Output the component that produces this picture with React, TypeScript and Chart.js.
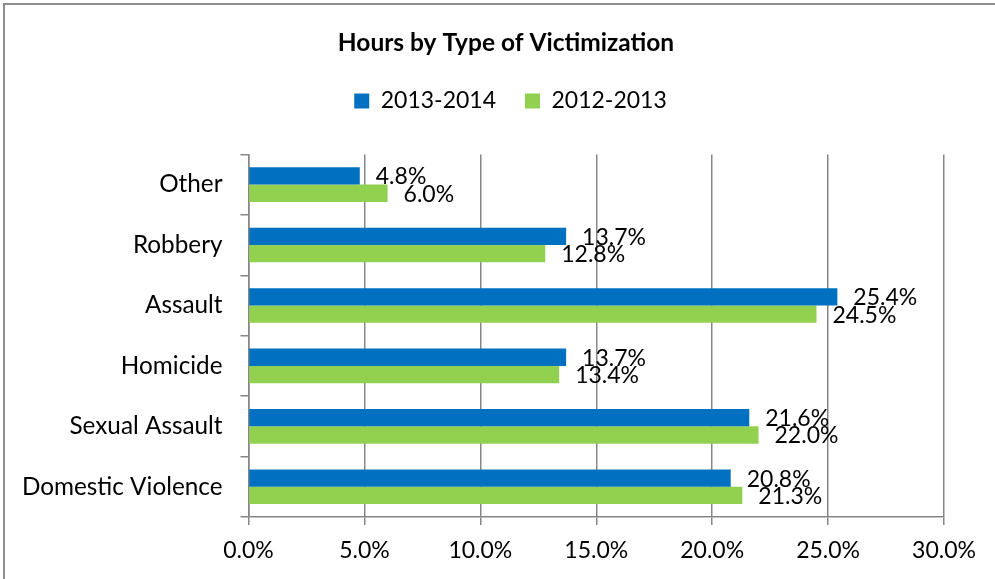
import React, { useEffect, useRef } from "react";
import { Chart, registerables } from "chart.js";

Chart.register(...registerables);

const categories = ["Other", "Robbery", "Assault", "Homicide", "Sexual Assault", "Domestic Violence"];
const series2013_2014 = [4.8, 13.7, 25.4, 13.7, 21.6, 20.8];
const series2012_2013 = [6.0, 12.8, 24.5, 13.4, 22.0, 21.3];
const seriesNames = ["2013-2014", "2012-2013"];
const xTicks = [0, 5, 10, 15, 20, 25, 30];

const FONT = "Lato, 'Noto Sans', sans-serif";

const legendSpacing = {
  id: "legendSpacing",
  beforeInit(chart: any) {
    const legend = chart.legend;
    if (!legend) return;
    const origFit = legend.fit;
    legend.fit = function () {
      origFit.call(this);
      this.height += 32;
    };
  },
  afterLayout(chart: any) {
    if (chart.legend) chart.legend.left += 9;
  },
};

const valueLabels = {
  id: "valueLabels",
  afterDatasetsDraw(chart: any) {
    const ctx = chart.ctx;
    ctx.save();
    ctx.font = `23px ${FONT}`;
    ctx.fillStyle = "#000000";
    ctx.textAlign = "left";
    ctx.textBaseline = "middle";
    chart.data.datasets.forEach((ds: any, di: number) => {
      const meta = chart.getDatasetMeta(di);
      meta.data.forEach((bar: any, i: number) => {
        const v = ds.data[i];
        ctx.fillText(v.toFixed(1) + "%", bar.x + 16, bar.y + 1);
      });
    });
    ctx.restore();
  },
};

export default function App() {
  const ref = useRef<HTMLCanvasElement>(null);
  useEffect(() => {
    if (!ref.current) return;
    const chart = new Chart(ref.current, {
      type: "bar",
      data: {
        labels: categories,
        datasets: [
          {
            label: seriesNames[0],
            data: series2013_2014,
            backgroundColor: "#0070C0",
            borderWidth: 0,
          },
          {
            label: seriesNames[1],
            data: series2012_2013,
            backgroundColor: "#92D050",
            borderWidth: 0,
          },
        ],
      },
      options: {
        indexAxis: "y",
        responsive: false,
        animation: false,
        devicePixelRatio: 1,
        layout: { padding: { top: 20, left: 68, right: 51, bottom: 0 } },
        datasets: { bar: { categoryPercentage: 0.573, barPercentage: 1 } },
        plugins: {
          title: {
            display: true,
            text: "Hours by Type of Victimization",
            color: "#000000",
            font: { family: FONT, size: 24.5, weight: "bold" },
            padding: { top: 8, bottom: 3 },
          },
          legend: {
            display: true,
            position: "top",
            labels: {
              color: "#000000",
              font: { family: FONT, size: 23 },
              boxWidth: 15,
              boxHeight: 15,
              padding: 29,
            },
          },
          tooltip: { enabled: false },
        },
        scales: {
          x: {
            min: 0,
            max: 30,
            afterFit(scale: any) {
              scale.height = 62;
            },
            afterBuildTicks(scale: any) {
              scale.ticks = xTicks.map((v) => ({ value: v }));
            },
            ticks: {
              color: "#000000",
              font: { family: FONT, size: 23 },
              padding: 12,
              maxRotation: 0,
              callback: (v: any) => Number(v).toFixed(1) + "%",
            },
            grid: {
              color: "#868686",
              lineWidth: 1.5,
              tickLength: 8,
              drawOnChartArea: true,
            },
            border: { display: true, color: "#868686", width: 1.5 },
          },
          y: {
            afterFit(scale: any) {
              scale.width = 180.5;
              scale._computeLabelArea = () => undefined;
            },
            ticks: {
              color: "#000000",
              font: { family: FONT, size: 24.3 },
              padding: 18,
            },
            grid: {
              color: "#868686",
              lineWidth: 1.5,
              tickLength: 8,
              drawOnChartArea: false,
              offset: true,
            },
            border: { display: true, color: "#868686", width: 1.5 },
          },
        },
      },
      plugins: [legendSpacing, valueLabels],
    });
    return () => chart.destroy();
  }, []);

  return (
    <div
      style={{
        position: "fixed",
        left: 0,
        top: 0,
        width: 995,
        height: 579,
        background: "#ffffff",
        overflow: "hidden",
      }}
    >
      <canvas ref={ref} width={995} height={579} style={{ width: 995, height: 579, display: "block" }} />
      <div
        style={{
          position: "absolute",
          left: 3,
          top: 3,
          width: 1100,
          height: 700,
          borderLeft: "2px solid #8e8e8e",
          borderTop: "2px solid #8e8e8e",
          pointerEvents: "none",
        }}
      />
    </div>
  );
}
